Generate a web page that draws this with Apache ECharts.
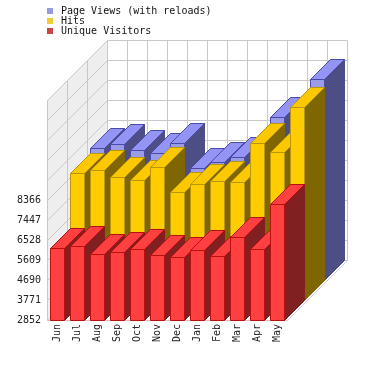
<!DOCTYPE html>
<html>
<head>
<meta charset="utf-8">
<style>html,body{margin:0;padding:0;background:#fff}#c{width:368px;height:366px}</style>
<script src="https://cdn.jsdelivr.net/npm/echarts@6/dist/echarts.min.js"></script>
</head>
<body>
<div id="c"></div>
<script>
const months = ['Jun','Jul','Aug','Sep','Oct','Nov','Dec','Jan','Feb','Mar','Apr','May'];
const pageViews = [8904,9087,8826,8674,9161,7985,8288,8518,8826,10342,10296,12074];
const hits = [8688,8848,8518,8366,8950,7801,8168,8334,8288,10089,9666,11707];
const uniqueVisitors = [6160,6239,5871,5990,6101,5825,5761,6055,5779,6652,6101,8168];
const yTickLabels = [2852,3771,4690,5609,6528,7447,8366];
const yGridValues = [2852,3771,4690,5609,6528,7447,8366,9285,10204,11123,12042,12961];

const DEPTH = 20;
const LAYERS = 3;
const GRID_LINE = '#c8c8c8';
const pt = (x, y) => [Math.round(x) + 0.5, Math.round(y) + 0.5];

function poly(points, fill, stroke) {
  return { type: 'polygon', shape: { points }, style: { fill, stroke, lineWidth: 1 } };
}
function line(a, b, stroke) {
  return { type: 'line', shape: { x1: a[0], y1: a[1], x2: b[0], y2: b[1] }, style: { stroke, lineWidth: 1, fill: 'none' } };
}

function barSeries(name, values, layer, colors) {
  return {
    type: 'custom', name, clip: false, silent: true,
    z: 5 + LAYERS - layer,
    encode: { x: 0, y: 1 },
    data: values.map((v, i) => [i, v]),
    itemStyle: { color: colors.front },
    renderItem(params, api) {
      const top = api.coord([api.value(0), api.value(1)]);
      const base = api.coord([api.value(0), yGridValues[0]]);
      const w = api.size([1, 0])[0] * 0.7;
      const off = DEPTH * layer;
      const [xl, yt] = pt(top[0] - w / 2 + off, top[1] - off);
      const [xr, yb] = pt(top[0] + w / 2 + off, base[1] - off);
      return {
        type: 'group',
        children: [
          poly([[xr, yt], [xr + DEPTH, yt - DEPTH], [xr + DEPTH, yb - DEPTH], [xr, yb]], colors.side, colors.side),
          poly([[xl, yt], [xl + DEPTH, yt - DEPTH], [xr + DEPTH, yt - DEPTH], [xr, yt]], colors.top, colors.edge),
          poly([[xl, yt], [xr, yt], [xr, yb], [xl, yb]], colors.front, colors.edge),
          line([xr, yt], [xr + DEPTH, yt - DEPTH], colors.edge)
        ]
      };
    }
  };
}

const wallSeries = {
  type: 'custom', clip: false, silent: true, z: 1,
  encode: { x: 0, y: 1 },
  data: yGridValues.map(v => [0, v]),
  renderItem(params, api) {
    const d = DEPTH * LAYERS;
    const size = api.size([1, 0])[0];
    const idx = params.dataIndex;
    const first = api.coord([0, yGridValues[0]]);
    const last = api.coord([0, yGridValues[yGridValues.length - 1]]);
    const left = first[0] - size / 2;
    const right = left + size * months.length;
    const yBottom = first[1], yTop = last[1];
    const children = [];
    if (idx === 0) {
      const [xl, yb] = pt(left, yBottom);
      const [xr, yt] = pt(right, yTop);
      children.push(poly([[xl, yb], [xl + d, yb - d], [xl + d, yt - d], [xl, yt]], '#eeeeee', 'none'));
      children.push(poly([[xl + d, yb - d], [xr + d, yb - d], [xr + d, yt - d], [xl + d, yt - d]], '#ffffff', 'none'));
      children.push(poly([[xl, yb], [xr, yb], [xr + d, yb - d], [xl + d, yb - d]], '#ffffff', 'none'));
      for (let i = 0; i <= months.length; i++) {
        const x = xl + i * Math.round(size);
        children.push(line([x + d, yb - d], [x + d, yt - d], GRID_LINE));
        children.push(line([x, yb], [x + d, yb - d], i === months.length ? '#ccccee' : '#e6e6e6'));
      }
      for (let k = 0; k < LAYERS; k++) {
        children.push(line([xl + k * DEPTH, yb - k * DEPTH], [xl + k * DEPTH, yt - k * DEPTH], GRID_LINE));
      }
    }
    const y = pt(left, api.coord([0, api.value(1)])[1]);
    const xr2 = pt(right, 0)[0];
    children.push(line([y[0], y[1]], [y[0] + d, y[1] - d], GRID_LINE));
    children.push(line([y[0] + d, y[1] - d], [xr2 + d, y[1] - d], GRID_LINE));
    if (idx === 0) children.push(line([y[0], y[1]], [xr2, y[1]], GRID_LINE));
    return { type: 'group', children };
  }
};

const chart = echarts.init(document.getElementById('c'), null, { renderer: 'canvas' });
const monoFont = '"DejaVu Sans Mono", monospace';
chart.setOption({
  animation: false,
  backgroundColor: '#ffffff',
  legend: {
    show: true, selectedMode: false, orient: 'vertical',
    left: 47, top: 6, padding: 0, itemGap: 0, itemWidth: 6, itemHeight: 6, icon: 'rect',
    textStyle: { fontFamily: monoFont, fontSize: 10, color: '#111', lineHeight: 9.6, padding: [0, 0, 0, 3] },
    data: [
      { name: 'Page Views (with reloads)', itemStyle: { color: '#9999dd' } },
      { name: 'Hits', itemStyle: { color: '#eecc33' } },
      { name: 'Unique Visitors', itemStyle: { color: '#cc4444' } }
    ]
  },
  grid: { left: 47, top: 100, width: 240, height: 220, containLabel: false },
  xAxis: {
    type: 'category', data: months, boundaryGap: true,
    axisLine: { show: false }, axisTick: { show: false }, splitLine: { show: false },
    axisLabel: { rotate: 90, interval: 0, margin: 4, fontFamily: monoFont, fontSize: 10, color: '#222' }
  },
  yAxis: {
    type: 'value', min: yGridValues[0], max: yGridValues[yGridValues.length - 1],
    axisLine: { show: false }, axisTick: { show: false }, splitLine: { show: false },
    axisLabel: { customValues: yTickLabels, formatter: v => String(v), margin: 6, fontFamily: monoFont, fontSize: 10, color: '#222' }
  },
  series: [
    wallSeries,
    barSeries('Page Views (with reloads)', pageViews, 2, { front: '#9c9ce4', top: '#9494f4', side: '#4e4e86', edge: '#4a4aa8' }),
    barSeries('Hits', hits, 1, { front: '#ffcc00', top: '#fcc800', side: '#806600', edge: '#b89610' }),
    barSeries('Unique Visitors', uniqueVisitors, 0, { front: '#ff4040', top: '#ff4040', side: '#802020', edge: '#b81010' })
  ]
});
</script>
</body>
</html>
